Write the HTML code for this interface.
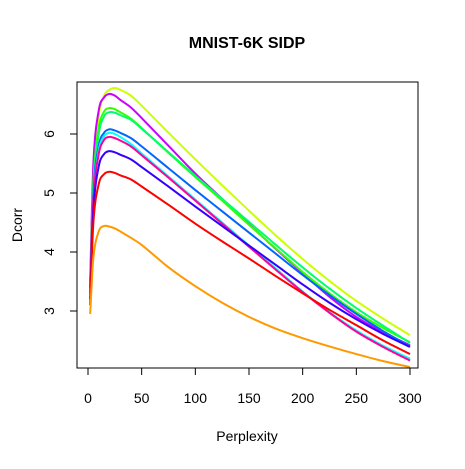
<!DOCTYPE html>
<html><head><meta charset="utf-8"><style>
body{margin:0;background:#fff;}
svg text{font-family:"Liberation Sans",Arial,sans-serif;fill:#000;}
</style></head><body>
<svg width="465" height="464" id="c">
<rect width="465" height="464" fill="#fff"/>
<text x="247" y="48" text-anchor="middle" font-size="16" font-weight="bold">MNIST-6K SIDP</text>
<text x="247" y="441" text-anchor="middle" font-size="14">Perplexity</text>
<text x="22" y="225" text-anchor="middle" font-size="14" transform="rotate(-90 22 225)">Dcorr</text>
<rect x="77" y="82" width="341" height="286" fill="none" stroke="#000"/>
<g id="series"></g><g id="axes"></g>
</svg>
<script>
const perp=[2,5,10,15,20,25,30,40,50,75,100,125,150,175,200,225,250,275,300];
const colors=["#CCFF00","#CC00FF","#33FF00","#00FF66","#0066FF","#00FFFF","#FF0099","#3300FF","#FF0000","#FF9900"];
const sYellow=[3.4,5.2,6.3,6.65,6.75,6.78,6.75,6.65,6.48,6.02,5.57,5.13,4.7,4.28,3.88,3.51,3.17,2.87,2.59];
const sMagenta=[3.5,5.5,6.4,6.62,6.68,6.65,6.58,6.45,6.27,5.8,5.33,4.9,4.47,4.05,3.64,3.24,2.9,2.64,2.42];
const sGreen=[3.4,5.2,6.1,6.38,6.44,6.42,6.37,6.26,6.1,5.68,5.27,4.87,4.46,4.06,3.66,3.3,2.98,2.71,2.47];
const sSpring=[3.3,5.1,6.0,6.3,6.37,6.36,6.32,6.24,6.09,5.69,5.29,4.9,4.51,4.12,3.74,3.38,3.05,2.75,2.46];
const sAzure=[3.3,5.0,5.8,6.02,6.08,6.06,6.02,5.93,5.79,5.42,5.05,4.69,4.33,3.97,3.61,3.27,2.95,2.66,2.40];
const sCyan=[3.3,4.9,5.72,5.96,6.02,6.0,5.95,5.83,5.67,5.28,4.89,4.5,4.11,3.72,3.33,2.98,2.67,2.41,2.19];
const sPink=[3.4,4.9,5.66,5.9,5.95,5.93,5.89,5.79,5.64,5.26,4.87,4.48,4.09,3.7,3.32,2.97,2.65,2.39,2.16];
const sBlue=[3.2,4.7,5.45,5.66,5.71,5.69,5.65,5.57,5.44,5.11,4.77,4.44,4.11,3.78,3.45,3.14,2.86,2.61,2.39];
const sRed=[3.1,4.5,5.15,5.32,5.36,5.34,5.3,5.23,5.11,4.8,4.48,4.18,3.89,3.59,3.3,3.02,2.76,2.5,2.27];
const sOrange=[2.95,3.9,4.35,4.44,4.43,4.4,4.35,4.24,4.12,3.74,3.42,3.14,2.9,2.7,2.54,2.4,2.27,2.15,2.05];
const xTicks=[0,50,100,150,200,250,300];
const yTicks=[3,4,5,6];
const series=[sYellow,sMagenta,sGreen,sSpring,sAzure,sCyan,sPink,sBlue,sRed,sOrange];
const NS="http://www.w3.org/2000/svg";
const xs=v=>88+v*(322/300);
const ys=v=>311-(v-3)*59;
const sg=document.getElementById('series'), ax=document.getElementById('axes');
series.forEach((s,i)=>{
  const p=s.map((v,j)=>[xs(perp[j]),ys(v)]);
  const n=p.length;
  const m=p.map((q,j)=>{
    const a=p[Math.max(0,j-1)], b=p[Math.min(n-1,j+1)];
    return (b[1]-a[1])/(b[0]-a[0]);
  });
  let d="M"+p[0][0]+","+p[0][1];
  for(let j=0;j<n-1;j++){
    const h=(p[j+1][0]-p[j][0])/3;
    d+=`C${p[j][0]+h},${p[j][1]+m[j]*h} ${p[j+1][0]-h},${p[j+1][1]-m[j+1]*h} ${p[j+1][0]},${p[j+1][1]}`;
  }
  const el=document.createElementNS(NS,'path');
  el.setAttribute('d',d);el.setAttribute('fill','none');el.setAttribute('stroke',colors[i]);el.setAttribute('stroke-width','2');
  
  
  sg.appendChild(el);
});
function add(tag,attrs,txt){const e=document.createElementNS(NS,tag);for(const k in attrs)e.setAttribute(k,attrs[k]);if(txt!=null)e.textContent=txt;ax.appendChild(e);return e;}
const xl=add('line',{x1:xs(0),x2:xs(300),y1:368,y2:368,stroke:'#000'});


xTicks.forEach(t=>{
  const l=add('line',{x1:xs(t),x2:xs(t),y1:368,y2:375,stroke:'#000'});
  
  
  const tx=add('text',{x:xs(t),y:403,'text-anchor':'middle','font-size':14},t);
  
  
});
yTicks.forEach(t=>{
  const l=add('line',{x1:70,x2:77,y1:ys(t),y2:ys(t),stroke:'#000'});
  
  
  const tx=add('text',{x:54,y:ys(t),'text-anchor':'middle','font-size':14,transform:`rotate(-90 54 ${ys(t)})`},t);
  
  
});
</script>
</body></html>
